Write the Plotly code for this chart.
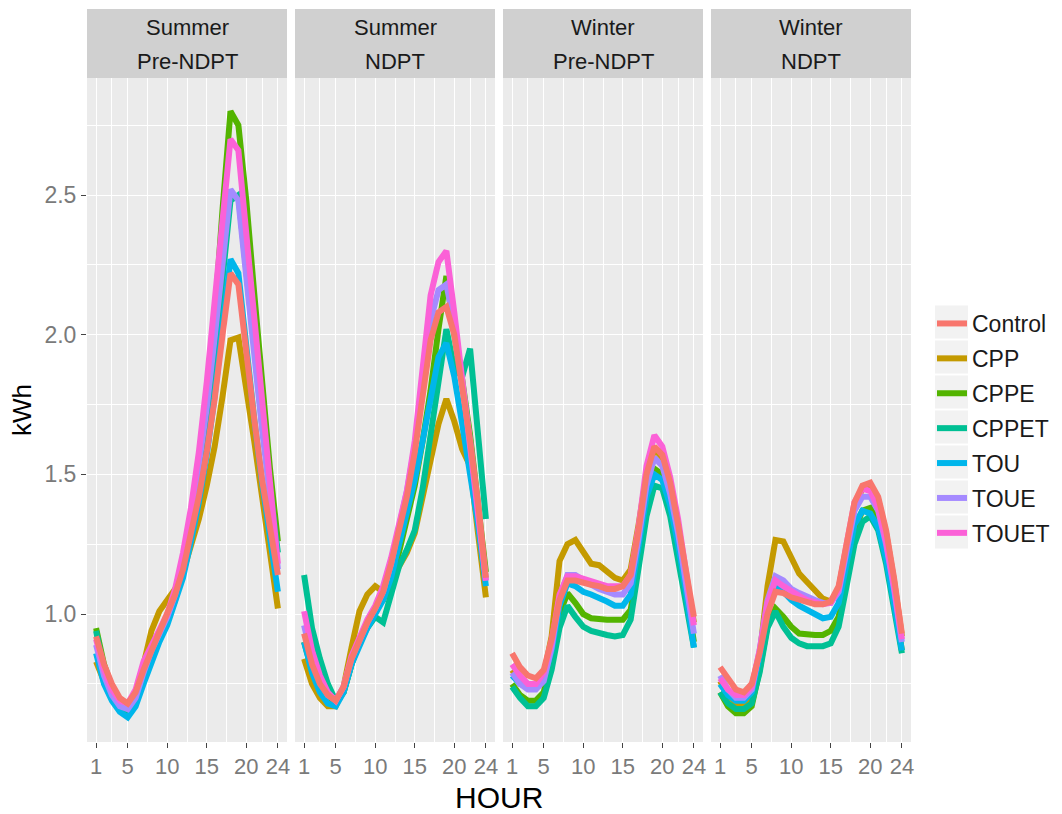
import plotly.graph_objects as go
from plotly.subplots import make_subplots

# ---------------- data ----------------
hours = list(range(1, 25))
series_names = ["Control", "CPP", "CPPE", "CPPET", "TOU", "TOUE", "TOUET"]
series_colors = ["#F8766D", "#C49A00", "#53B400", "#00C094", "#00B6EB", "#A58AFF", "#FB61D7"]
panel_line1 = ["Summer", "Summer", "Winter", "Winter"]
panel_line2 = ["Pre-NDPT", "NDPT", "Pre-NDPT", "NDPT"]
x_tickvals = [1, 5, 10, 15, 20, 24]
y_tickvals = [1.0, 1.5, 2.0, 2.5]
y_ticktext = ["1.0", "1.5", "2.0", "2.5"]

# Summer Pre-NDPT
sp_control = [0.92, 0.82, 0.75, 0.70, 0.68, 0.72, 0.80, 0.87, 0.93, 1.00, 1.07, 1.16, 1.28, 1.42, 1.58, 1.77, 2.00, 2.22, 2.18, 1.92, 1.70, 1.48, 1.30, 1.14]
sp_cpp     = [0.83, 0.76, 0.71, 0.68, 0.67, 0.72, 0.82, 0.94, 1.01, 1.05, 1.09, 1.15, 1.24, 1.34, 1.46, 1.60, 1.78, 1.98, 1.99, 1.82, 1.62, 1.42, 1.22, 1.02]
sp_cppe    = [0.95, 0.82, 0.74, 0.69, 0.66, 0.70, 0.78, 0.86, 0.92, 0.99, 1.08, 1.20, 1.36, 1.55, 1.78, 2.06, 2.45, 2.80, 2.75, 2.48, 2.15, 1.82, 1.52, 1.26]
sp_cppet   = [0.94, 0.80, 0.72, 0.67, 0.65, 0.68, 0.76, 0.84, 0.91, 0.97, 1.05, 1.15, 1.30, 1.47, 1.67, 1.90, 2.20, 2.48, 2.50, 2.25, 1.96, 1.68, 1.44, 1.22]
sp_tou     = [0.86, 0.75, 0.69, 0.65, 0.63, 0.67, 0.75, 0.83, 0.90, 0.96, 1.04, 1.13, 1.26, 1.40, 1.57, 1.78, 2.03, 2.27, 2.22, 1.95, 1.70, 1.47, 1.27, 1.08]
sp_toue    = [0.89, 0.78, 0.71, 0.67, 0.66, 0.70, 0.79, 0.87, 0.93, 0.99, 1.07, 1.18, 1.33, 1.52, 1.74, 1.99, 2.28, 2.52, 2.48, 2.20, 1.92, 1.66, 1.42, 1.16]
sp_touet   = [0.91, 0.80, 0.73, 0.69, 0.68, 0.73, 0.83, 0.89, 0.94, 1.00, 1.09, 1.22, 1.38, 1.58, 1.83, 2.12, 2.45, 2.70, 2.66, 2.35, 2.04, 1.74, 1.47, 1.18]

# Summer NDPT
sn_control = [0.93, 0.82, 0.75, 0.71, 0.69, 0.74, 0.84, 0.91, 0.97, 1.02, 1.08, 1.18, 1.30, 1.42, 1.58, 1.78, 1.98, 2.08, 2.10, 2.00, 1.82, 1.62, 1.40, 1.13]
sn_cpp     = [0.84, 0.75, 0.70, 0.67, 0.67, 0.74, 0.88, 1.01, 1.07, 1.10, 1.08, 1.12, 1.17, 1.22, 1.29, 1.42, 1.56, 1.68, 1.77, 1.69, 1.59, 1.53, 1.29, 1.06]
sn_cppe    = [0.90, 0.80, 0.74, 0.70, 0.68, 0.72, 0.82, 0.90, 0.96, 1.02, 1.05, 1.12, 1.22, 1.33, 1.46, 1.62, 1.80, 2.02, 2.21, 2.00, 1.84, 1.64, 1.40, 1.15]
sn_cppet   = [1.14, 0.95, 0.84, 0.75, 0.69, 0.72, 0.82, 0.90, 0.95, 0.99, 0.97, 1.07, 1.17, 1.23, 1.30, 1.45, 1.64, 1.86, 2.02, 1.88, 1.85, 1.95, 1.62, 1.34]
sn_tou     = [0.90, 0.79, 0.72, 0.68, 0.67, 0.72, 0.82, 0.89, 0.95, 1.00, 1.05, 1.13, 1.24, 1.36, 1.48, 1.62, 1.78, 1.92, 1.97, 1.85, 1.68, 1.50, 1.32, 1.10]
sn_toue    = [0.96, 0.84, 0.76, 0.71, 0.69, 0.74, 0.84, 0.91, 0.97, 1.02, 1.08, 1.18, 1.31, 1.44, 1.60, 1.82, 2.05, 2.16, 2.18, 2.04, 1.84, 1.62, 1.38, 1.12]
sn_touet   = [1.01, 0.87, 0.78, 0.72, 0.69, 0.74, 0.85, 0.92, 0.98, 1.03, 1.10, 1.20, 1.32, 1.44, 1.62, 1.86, 2.14, 2.26, 2.30, 2.08, 1.85, 1.62, 1.38, 1.12]

# Winter Pre-NDPT
wp_control = [0.86, 0.81, 0.78, 0.77, 0.80, 0.91, 1.05, 1.12, 1.12, 1.11, 1.105, 1.10, 1.09, 1.09, 1.10, 1.14, 1.30, 1.50, 1.60, 1.57, 1.47, 1.32, 1.15, 0.99]
wp_cpp     = [0.80, 0.76, 0.74, 0.74, 0.78, 0.92, 1.19, 1.25, 1.265, 1.22, 1.18, 1.175, 1.15, 1.13, 1.12, 1.16, 1.32, 1.50, 1.59, 1.56, 1.46, 1.31, 1.14, 0.97]
wp_cppe    = [0.75, 0.71, 0.69, 0.69, 0.72, 0.84, 1.00, 1.075, 1.04, 1.00, 0.985, 0.98, 0.98, 0.98, 0.98, 1.015, 1.18, 1.40, 1.52, 1.50, 1.41, 1.26, 1.09, 0.90]
wp_cppet   = [0.74, 0.70, 0.67, 0.67, 0.70, 0.80, 0.95, 1.03, 0.99, 0.955, 0.94, 0.93, 0.925, 0.92, 0.925, 0.98, 1.15, 1.35, 1.46, 1.45, 1.35, 1.20, 1.05, 0.88]
wp_tou     = [0.78, 0.75, 0.74, 0.74, 0.77, 0.87, 1.03, 1.11, 1.10, 1.08, 1.07, 1.06, 1.045, 1.03, 1.03, 1.07, 1.23, 1.42, 1.50, 1.48, 1.39, 1.25, 1.08, 0.88]
wp_toue    = [0.79, 0.75, 0.73, 0.73, 0.76, 0.88, 1.06, 1.14, 1.14, 1.12, 1.105, 1.09, 1.08, 1.07, 1.07, 1.11, 1.27, 1.46, 1.56, 1.53, 1.43, 1.29, 1.11, 0.93]
wp_touet   = [0.82, 0.78, 0.75, 0.75, 0.79, 0.90, 1.07, 1.135, 1.135, 1.125, 1.12, 1.11, 1.10, 1.10, 1.10, 1.14, 1.31, 1.53, 1.64, 1.60, 1.49, 1.34, 1.16, 0.96]

# Winter NDPT
wn_control = [0.81, 0.765, 0.73, 0.72, 0.75, 0.86, 1.00, 1.08, 1.075, 1.06, 1.05, 1.04, 1.035, 1.035, 1.045, 1.10, 1.25, 1.40, 1.46, 1.47, 1.42, 1.30, 1.13, 0.93]
wn_cpp     = [0.76, 0.71, 0.68, 0.67, 0.70, 0.85, 1.10, 1.265, 1.26, 1.205, 1.145, 1.115, 1.085, 1.055, 1.045, 1.09, 1.24, 1.38, 1.45, 1.46, 1.41, 1.29, 1.12, 0.92]
wn_cppe    = [0.72, 0.67, 0.645, 0.645, 0.67, 0.80, 0.96, 1.02, 0.99, 0.955, 0.93, 0.925, 0.925, 0.925, 0.94, 0.99, 1.14, 1.30, 1.37, 1.38, 1.33, 1.21, 1.05, 0.87]
wn_cppet   = [0.72, 0.68, 0.66, 0.66, 0.68, 0.79, 0.95, 1.01, 0.955, 0.915, 0.895, 0.885, 0.885, 0.885, 0.895, 0.955, 1.10, 1.25, 1.33, 1.35, 1.30, 1.18, 1.02, 0.86]
wn_tou     = [0.75, 0.71, 0.69, 0.69, 0.72, 0.85, 1.02, 1.105, 1.08, 1.05, 1.03, 1.015, 1.00, 0.985, 0.99, 1.04, 1.18, 1.32, 1.37, 1.36, 1.31, 1.20, 1.04, 0.87]
wn_toue    = [0.78, 0.73, 0.70, 0.70, 0.73, 0.87, 1.05, 1.135, 1.12, 1.09, 1.075, 1.06, 1.05, 1.04, 1.04, 1.08, 1.23, 1.37, 1.42, 1.42, 1.37, 1.25, 1.09, 0.90]
wn_touet   = [0.77, 0.73, 0.71, 0.71, 0.74, 0.87, 1.04, 1.12, 1.10, 1.08, 1.065, 1.05, 1.04, 1.035, 1.04, 1.09, 1.25, 1.40, 1.45, 1.44, 1.38, 1.26, 1.10, 0.91]

panels = [
    [sp_control, sp_cpp, sp_cppe, sp_cppet, sp_tou, sp_toue, sp_touet],
    [sn_control, sn_cpp, sn_cppe, sn_cppet, sn_tou, sn_toue, sn_touet],
    [wp_control, wp_cpp, wp_cppe, wp_cppet, wp_tou, wp_toue, wp_touet],
    [wn_control, wn_cpp, wn_cppe, wn_cppet, wn_tou, wn_toue, wn_touet],
]

# ---------------- layout geometry (pixels) ----------------
W, H = 1062, 814
L, R, T, B = 87, 911, 78, 742
PW, PH = R - L, B - T
FONT = "Liberation Sans, Arial, sans-serif"


def px_x(px):
    return (px - L) / PW


def px_y(py):
    return (B - py) / PH


fig = make_subplots(rows=1, cols=4, shared_yaxes=True, horizontal_spacing=8 / PW)

draw_order = [1, 2, 3, 4, 5, 6, 0]  # Control drawn on top
for c, data in enumerate(panels):
    for i in draw_order:
        fig.add_trace(
            go.Scatter(
                x=hours, y=data[i], mode="lines", name=series_names[i],
                line=dict(color=series_colors[i], width=6, shape="linear"),
                legendgroup=series_names[i], legendrank=i + 1,
                showlegend=(c == 0), hoverinfo="skip",
            ),
            row=1, col=c + 1,
        )

for c in range(4):
    fig.update_xaxes(
        range=[-0.15, 25.15], tickvals=x_tickvals, ticktext=[str(v) for v in x_tickvals],
        ticks="outside", ticklen=5, tickwidth=1.2, tickcolor="#444444",
        tickfont=dict(family=FONT, size=22, color="#7A7A7A"),
        showgrid=True, gridcolor="white", gridwidth=1.3, zeroline=False, showline=False,
        minor=dict(tickvals=[3, 7.5, 12.5, 17.5, 22], showgrid=True, gridcolor="white", gridwidth=0.6, ticks=""),
        row=1, col=c + 1,
    )
    fig.update_yaxes(
        range=[0.542, 2.919], tickvals=y_tickvals, ticktext=y_ticktext,
        ticks="outside" if c == 0 else "", ticklen=5, tickwidth=1.2, tickcolor="#444444",
        showticklabels=(c == 0),
        tickfont=dict(family=FONT, size=23, color="#7A7A7A"),
        showgrid=True, gridcolor="white", gridwidth=1.3, zeroline=False, showline=False,
        minor=dict(tickvals=[0.75, 1.25, 1.75, 2.25, 2.75], showgrid=True, gridcolor="white", gridwidth=0.6, ticks=""),
        row=1, col=c + 1,
    )

shapes = []
annotations = []
# facet strips
strip_top = px_y(9)
for c in range(4):
    xa = fig.layout["xaxis" + ("" if c == 0 else str(c + 1))].domain
    shapes.append(dict(type="rect", xref="paper", yref="paper", x0=xa[0], x1=xa[1], y0=1.0, y1=strip_top,
                       fillcolor="#D0D0D0", line=dict(width=0), layer="below"))
    xm = (xa[0] + xa[1]) / 2
    annotations.append(dict(text=panel_line1[c], xref="paper", yref="paper", x=xm, y=px_y(28),
                            showarrow=False, xanchor="center", yanchor="middle",
                            font=dict(family=FONT, size=22, color="#1A1A1A")))
    annotations.append(dict(text=panel_line2[c], xref="paper", yref="paper", x=xm, y=px_y(62),
                            showarrow=False, xanchor="center", yanchor="middle",
                            font=dict(family=FONT, size=22, color="#1A1A1A")))

# legend key backgrounds
for i in range(len(series_names)):
    cy = 322 + 35.0 * i
    shapes.append(dict(type="rect", xref="paper", yref="paper", x0=px_x(935), x1=px_x(968),
                       y0=px_y(cy + 16.5), y1=px_y(cy - 16.5), fillcolor="#F2F2F2",
                       line=dict(width=0), layer="below"))

annotations.append(dict(text="kWh", xref="paper", yref="paper", x=px_x(22), y=px_y(410), textangle=-90,
                        showarrow=False, xanchor="center", yanchor="middle",
                        font=dict(family=FONT, size=26, color="black")))
annotations.append(dict(text="HOUR", xref="paper", yref="paper", x=px_x(499), y=px_y(797),
                        showarrow=False, xanchor="center", yanchor="middle",
                        font=dict(family=FONT, size=30, color="black")))

fig.update_layout(
    width=W, height=H,
    margin=dict(l=L, r=W - R, t=T, b=H - B, pad=0, autoexpand=False),
    paper_bgcolor="white", plot_bgcolor="#EBEBEB",
    font=dict(family=FONT),
    shapes=shapes, annotations=annotations,
    legend=dict(x=px_x(932), y=px_y(302), xanchor="left", yanchor="top",
                bgcolor="rgba(0,0,0,0)", font=dict(family=FONT, size=23, color="#1A1A1A"),
                tracegroupgap=2, itemwidth=30),
)

fig.write_html("out.html")
